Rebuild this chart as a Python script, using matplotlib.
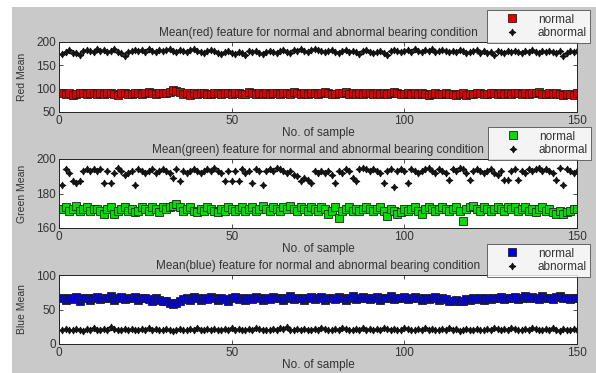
import numpy as np
import matplotlib
matplotlib.use('Agg')
import matplotlib.pyplot as plt
import matplotlib.patches as patches

plt.rcParams['font.family'] = ['Liberation Sans', 'DejaVu Sans']

# sample index 1..150
samples = np.arange(1, 151)

red_normal = [90, 88, 91, 87, 89, 91, 90, 89, 91, 90,
              89, 90, 88, 91, 90, 89, 87, 90, 91, 89,
              88, 90, 91, 89, 90, 92, 90, 89, 91, 90,
              91, 93, 97, 96, 92, 88, 91, 87, 90, 89,
              91, 90, 88, 89, 91, 90, 88, 90, 91, 89,
              90, 91, 89, 88, 92, 90, 89, 91, 88, 90,
              89, 91, 90, 88, 90, 91, 89, 92, 90, 89,
              90, 88, 91, 90, 89, 91, 92, 90, 88, 89,
              91, 90, 92, 89, 90, 88, 91, 89, 90, 91,
              89, 90, 88, 91, 89, 90, 92, 90, 89, 88,
              90, 89, 91, 88, 90, 89, 87, 89, 90, 88,
              89, 90, 88, 89, 87, 88, 90, 86, 89, 88,
              90, 91, 89, 88, 90, 91, 89, 90, 88, 91,
              89, 90, 91, 88, 90, 89, 91, 90, 92, 89,
              88, 90, 89, 91, 88, 87, 89, 88, 87, 90]
red_abnormal = [174, 179, 182, 177, 176, 172, 180, 183, 181, 179,
                184, 180, 182, 178, 181, 184, 179, 177, 170, 178,
                181, 183, 180, 182, 179, 185, 181, 178, 183, 180,
                182, 184, 180, 179, 183, 181, 178, 182, 185, 180,
                179, 177, 181, 183, 180, 176, 174, 178, 181, 177,
                175, 178, 176, 172, 180, 178, 181, 177, 175, 179,
                181, 178, 176, 180, 183, 179, 177, 182, 180, 184,
                181, 179, 183, 185, 182, 180, 178, 181, 183, 179,
                177, 180, 182, 179, 181, 178, 174, 180, 183, 178,
                176, 179, 181, 177, 172, 180, 183, 181, 178, 180,
                182, 179, 184, 181, 178, 182, 180, 185, 179, 181,
                183, 180, 178, 181, 179, 182, 180, 176, 178, 181,
                183, 177, 180, 176, 178, 172, 181, 179, 177, 180,
                178, 181, 179, 176, 180, 178, 182, 179, 177, 180,
                178, 181, 179, 176, 180, 171, 177, 181, 178, 180]

green_normal = [171, 172, 170, 171, 173, 170, 171, 172, 170, 171,
                171, 170, 168, 171, 172, 168, 170, 171, 172, 170,
                171, 169, 170, 172, 171, 170, 172, 171, 169, 172,
                171, 172, 173, 174, 172, 170, 171, 172, 170, 169,
                171, 170, 172, 171, 170, 169, 171, 170, 172, 171,
                170, 171, 172, 170, 171, 172, 170, 171, 173, 171,
                170, 172, 171, 170, 172, 171, 173, 171, 170, 172,
                171, 170, 172, 171, 170, 172, 171, 168, 170, 172,
                166, 170, 171, 172, 170, 171, 170, 171, 172, 171,
                170, 171, 172, 170, 167, 171, 170, 168, 169, 171,
                170, 171, 172, 170, 168, 171, 172, 171, 170, 171,
                172, 171, 170, 171, 172, 170, 164, 171, 172, 173,
                171, 170, 172, 171, 170, 171, 172, 171, 170, 172,
                171, 172, 170, 171, 172, 170, 171, 169, 171, 172,
                170, 171, 169, 168, 170, 168, 169, 170, 171, 171]
green_abnormal = [185, 194, 192, 187, 186, 187, 193, 194, 193, 194,
                  193, 194, 186, 193, 186, 192, 195, 193, 191, 192,
                  193, 185, 194, 193, 192, 193, 194, 192, 193, 194,
                  193, 192, 189, 194, 187, 193, 192, 193, 194, 193,
                  192, 193, 194, 193, 195, 193, 192, 187, 193, 187,
                  193, 187, 194, 192, 193, 186, 194, 193, 185, 193,
                  194, 193, 195, 194, 193, 192, 193, 191, 190, 187,
                  189, 188, 186, 193, 192, 193, 192, 193, 191, 186,
                  193, 192, 194, 193, 189, 187, 194, 195, 194, 193,
                  194, 193, 192, 186, 193, 194, 184, 193, 194, 193,
                  186, 194, 193, 192, 193, 194, 195, 193, 192, 194,
                  193, 192, 188, 194, 193, 195, 194, 192, 188, 193,
                  194, 193, 192, 193, 194, 192, 191, 193, 188, 188,
                  193, 194, 188, 193, 192, 194, 193, 194, 195, 193,
                  194, 193, 192, 188, 195, 185, 194, 193, 192, 193]

blue_normal = [66, 64, 67, 65, 68, 63, 66, 67, 64, 66,
               68, 65, 67, 66, 69, 64, 66, 68, 65, 67,
               66, 68, 64, 66, 67, 65, 63, 66, 64, 62,
               63, 60, 58, 59, 62, 65, 67, 64, 68, 66,
               64, 67, 65, 68, 66, 64, 67, 65, 63, 66,
               68, 65, 66, 64, 67, 65, 68, 66, 64, 67,
               65, 68, 66, 67, 64, 66, 69, 65, 67, 66,
               64, 67, 68, 65, 66, 68, 64, 66, 67, 65,
               68, 66, 64, 67, 69, 65, 66, 68, 67, 65,
               66, 68, 64, 67, 66, 69, 65, 67, 66, 68,
               65, 67, 68, 66, 64, 67, 65, 66, 68, 64,
               66, 65, 63, 62, 64, 63, 62, 65, 64, 66,
               65, 67, 64, 66, 65, 67, 66, 68, 65, 67,
               66, 68, 65, 67, 69, 66, 68, 67, 65, 69,
               66, 67, 65, 68, 70, 66, 67, 65, 66, 67]
blue_abnormal = [21, 22, 21, 20, 22, 21, 19, 22, 21, 23,
                 21, 20, 22, 21, 24, 22, 21, 20, 22, 21,
                 22, 21, 20, 22, 21, 23, 21, 22, 20, 21,
                 22, 21, 19, 21, 22, 20, 21, 22, 21, 23,
                 21, 20, 22, 21, 22, 21, 20, 22, 21, 23,
                 21, 22, 20, 21, 22, 21, 23, 22, 21, 20,
                 21, 22, 21, 23, 22, 24, 21, 20, 22, 21,
                 22, 21, 20, 22, 21, 23, 22, 21, 20, 22,
                 21, 23, 22, 21, 20, 22, 21, 23, 21, 22,
                 20, 22, 21, 23, 22, 21, 22, 20, 21, 23,
                 22, 21, 20, 22, 21, 23, 21, 22, 20, 21,
                 22, 21, 23, 20, 22, 19, 21, 22, 20, 21,
                 22, 21, 20, 22, 21, 23, 22, 21, 22, 21,
                 23, 22, 21, 20, 22, 21, 23, 22, 21, 20,
                 22, 21, 23, 20, 19, 22, 21, 20, 22, 21]

W, H = 596, 373
fig = plt.figure(figsize=(W / 100, H / 100), dpi=100, facecolor='white')
# grey matlab-style figure background
fig.patches.append(patches.Rectangle((12 / W, 0), 1, 1 - 7 / H, transform=fig.transFigure,
                                     facecolor='#c9c9c9', edgecolor='none', zorder=-10))

panels = [
    # (normal, abnormal, colour, name, ylabel, ylim, yticks, axes top px, axes bottom px, legend box px)
    (red_normal, red_abnormal, '#e00000', 'red', 'Red Mean', (50, 200), [50, 100, 150, 200], 42, 112, (487, 10)),
    (green_normal, green_abnormal, '#00e000', 'green', 'Green Mean', (160, 200), [160, 180, 200], 159, 228, (488, 127)),
    (blue_normal, blue_abnormal, '#0000e0', 'blue', 'Blue Mean', (0, 100), [0, 50, 100], 275, 344, (487, 244)),
]

ax_left, ax_right = 59, 577
for normal, abnormal, col, name, ylab, ylim, yt, top, bot, leg in panels:
    ax = fig.add_axes([ax_left / W, 1 - bot / H, (ax_right - ax_left) / W, (bot - top) / H])
    ax.plot(samples, normal, linestyle='none', marker='s', ms=6, mfc=col, mec='#202020',
            mew=0.6, label='normal')
    ax.plot(samples, abnormal, linestyle='none', marker=(4, 1, 0), ms=5, mfc='#111111',
            mec='#111111', mew=0.6, label='abnormal')
    ax.set_xlim(0, 150)
    ax.set_ylim(*ylim)
    ax.set_xticks([0, 50, 100, 150])
    ax.set_yticks(yt)
    ax.tick_params(direction='in', top=True, right=True, length=3, width=0.6,
                   labelsize=8.5, colors='#333333', pad=2)
    for s in ax.spines.values():
        s.set_linewidth(0.7)
        s.set_color('#222222')
    ax.set_title('Mean(%s) feature for normal and abnormal bearing condition' % name,
                 fontsize=8.5, color='#333333', pad=4)
    ax.set_xlabel('No. of sample', fontsize=8.5, color='#333333', labelpad=0)
    ax.set_ylabel(ylab, fontsize=7.5, color='#333333')
    ax.yaxis.set_label_coords(-0.062, 0.5)
    lg = ax.legend(loc='upper left', bbox_to_anchor=(leg[0] / W, 1 - leg[1] / H),
                   bbox_transform=fig.transFigure, fontsize=8.5, numpoints=1, frameon=True,
                   fancybox=False, borderpad=0.3, labelspacing=0.15, handlelength=3.6,
                   handletextpad=0.4, borderaxespad=0)
    lg.get_frame().set_edgecolor('#444444')
    lg.get_frame().set_linewidth(0.7)
    for t in lg.get_texts():
        t.set_color('#333333')

fig.savefig('out.png', dpi=100, facecolor=fig.get_facecolor())
